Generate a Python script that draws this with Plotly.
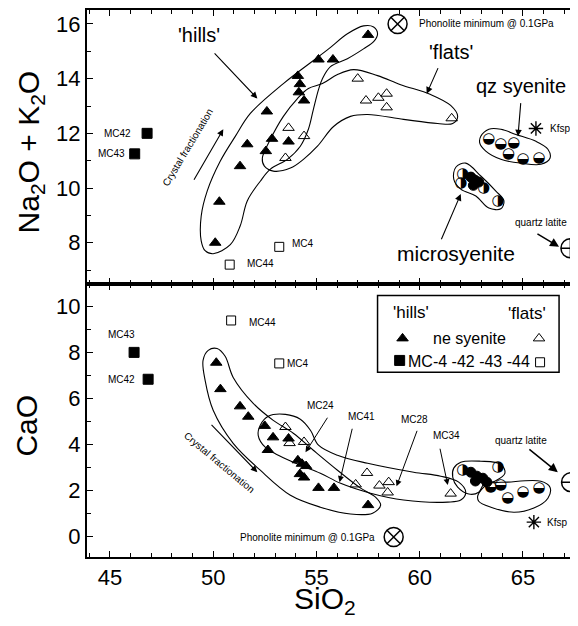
import plotly.graph_objects as go
from plotly.subplots import make_subplots

# ---------------- data (SiO2 wt%, oxide wt%) ----------------
# top panel: Na2O + K2O
hills_top_x = [50.1, 50.3, 51.3, 51.65, 52.6, 52.85, 52.55, 53.65, 54.1, 54.2, 54.15, 54.4, 55.1, 55.8, 57.5]
hills_top_y = [8.0, 9.5, 10.8, 11.6, 12.8, 11.8, 11.35, 11.7, 14.1, 13.8, 13.5, 13.2, 14.7, 14.7, 15.6]
flats_top_x = [53.5, 53.65, 54.4, 57.0, 57.4, 58.0, 58.4, 58.4, 61.55]
flats_top_y = [11.1, 12.2, 11.9, 14.0, 13.2, 13.3, 13.45, 12.95, 12.55]
mc_fill_top_x = [46.8, 46.2]          # MC42, MC43
mc_fill_top_y = [12.0, 11.25]
mc_open_top_x = [53.2, 50.8]          # MC4, MC44
mc_open_top_y = [7.85, 7.2]
qz_top_x = [63.35, 63.93, 64.56, 64.3, 65.0, 65.78]
qz_top_y = [11.78, 11.6, 11.64, 11.24, 11.05, 11.09]
micro_half_top_x = [62.09, 62.0, 63.1, 63.79]
micro_half_top_y = [10.51, 10.18, 10.0, 9.53]
micro_fill_top_x = [62.48, 62.67, 62.86, 62.6]
micro_fill_top_y = [10.4, 10.29, 10.22, 10.1]
phon_top = (58.93, 16.0)
qlat_top = (67.3, 7.8)
kfsp_top = (65.63, 12.18)

# bottom panel: CaO
hills_bot_x = [50.15, 50.35, 51.3, 51.7, 52.5, 52.9, 52.65, 53.65, 54.1, 54.3, 54.5, 54.2, 54.4, 55.1, 55.85, 57.5]
hills_bot_y = [7.55, 6.4, 5.65, 5.2, 4.8, 4.3, 3.75, 4.25, 3.3, 3.15, 3.05, 2.7, 2.55, 2.1, 2.1, 1.35]
flats_bot_x = [53.5, 53.7, 54.4, 57.45, 56.9, 58.05, 58.5, 58.45, 61.5]
flats_bot_y = [4.75, 4.05, 4.1, 2.75, 2.25, 2.2, 2.35, 1.9, 1.85]
mc_fill_bot_x = [46.17, 46.85]        # MC43, MC42
mc_fill_bot_y = [8.0, 6.83]
mc_open_bot_x = [50.87, 53.2]         # MC44, MC4
mc_open_bot_y = [9.39, 7.52]
qz_bot_x = [63.45, 63.93, 64.27, 65.0, 65.78]
qz_bot_y = [2.13, 2.22, 1.65, 1.91, 2.09]
micro_half_bot_x = [62.09, 63.79]
micro_half_bot_y = [2.87, 3.0]
micro_fill_bot_x = [62.48, 62.77, 63.06, 63.25, 62.7]
micro_fill_bot_y = [2.78, 2.61, 2.52, 2.35, 2.4]
phon_bot = (58.74, -0.04)
qlat_bot = (67.33, 2.35)
kfsp_bot = (65.53, 0.61)

# field envelopes (hand-drawn outlines in the original)
env_hills_top_x = [50.0, 50.83, 51.31, 51.65, 52.28, 52.77, 53.59, 54.22, 54.61, 54.85, 55.1, 55.29, 55.68, 56.5, 57.28, 57.77, 57.96, 57.77, 57.28, 56.5, 55.53, 53.4, 51.8, 51.07, 50.34, 49.71, 49.42, 49.42, 49.61]
env_hills_top_y = [7.6, 7.93, 8.62, 9.53, 10.25, 10.69, 11.05, 11.53, 12.15, 12.87, 13.6, 14.0, 14.44, 14.73, 15.09, 15.35, 15.64, 15.89, 15.93, 15.64, 15.05, 13.82, 12.73, 11.89, 10.98, 9.89, 8.98, 8.07, 7.71]
env_flats_top_x = [52.38, 52.77, 53.4, 54.08, 54.61, 55.29, 56.02, 56.8, 57.96, 59.08, 60.53, 61.5, 61.84, 61.6, 60.87, 59.22, 57.48, 56.65, 55.83, 55.05, 54.37, 53.74, 52.91, 52.48]
env_flats_top_y = [11.09, 11.78, 12.62, 13.27, 13.64, 13.82, 14.15, 14.33, 14.11, 13.78, 13.42, 13.02, 12.62, 12.36, 12.36, 12.51, 12.69, 12.62, 12.25, 11.53, 11.05, 10.73, 10.62, 10.8]
env_qz_top_x = [62.96, 63.35, 63.93, 64.66, 65.63, 66.21, 66.31, 65.87, 64.9, 63.93, 63.2, 62.91]
env_qz_top_y = [11.89, 12.15, 12.15, 11.96, 11.71, 11.42, 11.09, 10.87, 10.91, 11.05, 11.35, 11.64]
env_micro_top_x = [61.75, 62.23, 62.96, 63.69, 64.08, 63.93, 63.35, 62.72, 61.99, 61.65]
env_micro_top_y = [10.76, 10.91, 10.44, 9.89, 9.53, 9.24, 9.27, 9.71, 9.96, 10.33]

env_hills_bot_x = [49.76, 50.19, 50.58, 50.97, 51.94, 52.91, 53.88, 54.85, 56.02, 57.14, 57.86, 58.11, 57.72, 56.65, 55.19, 53.74, 52.28, 50.97, 50.0, 49.61, 49.51]
env_hills_bot_y = [8.09, 8.17, 7.83, 6.91, 5.78, 5.04, 4.48, 3.74, 2.87, 2.09, 1.7, 1.35, 1.0, 0.96, 1.26, 1.78, 2.87, 4.04, 5.48, 6.78, 7.65]
env_flats_bot_x = [52.28, 52.67, 53.5, 54.22, 54.71, 55.1, 56.02, 57.48, 59.71, 61.02, 61.89, 62.23, 61.99, 61.36, 59.22, 57.62, 56.17, 55.19, 54.22, 53.25, 52.52, 52.18]
env_flats_bot_y = [4.83, 5.22, 5.3, 5.09, 4.61, 3.96, 3.52, 3.17, 2.78, 2.61, 2.35, 1.91, 1.57, 1.48, 1.57, 1.87, 2.3, 2.74, 3.09, 3.48, 3.87, 4.39]
env_qz_bot_x = [62.82, 63.3, 64.27, 65.87, 66.31, 66.21, 65.53, 64.56, 63.45, 62.86]
env_qz_bot_y = [1.78, 2.26, 2.35, 2.39, 2.13, 1.65, 1.22, 1.04, 1.26, 1.52]
env_micro_bot_x = [61.65, 61.99, 62.96, 63.93, 64.13, 63.64, 63.11, 62.86, 62.38, 61.84, 61.6]
env_micro_bot_y = [2.96, 3.22, 3.26, 3.13, 2.74, 2.39, 2.26, 1.91, 1.83, 2.13, 2.57]

x_range = [43.89, 67.57]
y_top_range = [6.51, 16.51]
y_bot_range = [-0.91, 11.0]

FONT = "Liberation Sans, Arial, sans-serif"

fig = make_subplots(rows=2, cols=1, shared_xaxes=True, vertical_spacing=0)


def envelope(xs, ys, row):
    fig.add_trace(go.Scatter(x=xs + xs[:1], y=ys + ys[:1], mode="lines",
                             line=dict(color="black", width=1.1, shape="spline", smoothing=1.0),
                             hoverinfo="skip", showlegend=False), row=row, col=1)


def markers(xs, ys, row, symbol, size, lw=1.0, clip=True):
    fig.add_trace(go.Scatter(x=xs, y=ys, mode="markers", cliponaxis=clip,
                             marker=dict(symbol=symbol, size=size, color="black",
                                         line=dict(color="black", width=lw)),
                             showlegend=False), row=row, col=1)


def glyphs(xs, ys, row, glyph, size=15):
    fig.add_trace(go.Scatter(x=xs, y=ys, mode="text", text=[glyph] * len(xs),
                             textposition="middle center",
                             textfont=dict(family="DejaVu Sans", size=size, color="black"),
                             showlegend=False), row=row, col=1)


# envelopes
for ex, ey in [(env_hills_top_x, env_hills_top_y), (env_flats_top_x, env_flats_top_y),
               (env_qz_top_x, env_qz_top_y), (env_micro_top_x, env_micro_top_y)]:
    envelope(ex, ey, 1)
for ex, ey in [(env_hills_bot_x, env_hills_bot_y), (env_flats_bot_x, env_flats_bot_y),
               (env_qz_bot_x, env_qz_bot_y), (env_micro_bot_x, env_micro_bot_y)]:
    envelope(ex, ey, 2)

# top panel points
markers(hills_top_x, hills_top_y, 1, "triangle-up", 10)
markers(flats_top_x, flats_top_y, 1, "triangle-up-open", 10)
markers(mc_fill_top_x, mc_fill_top_y, 1, "square", 10)
markers(mc_open_top_x, mc_open_top_y, 1, "square-open", 9)
glyphs(qz_top_x, qz_top_y, 1, "\u25D2")
glyphs(micro_half_top_x, micro_half_top_y, 1, "\u25D1")
markers(micro_fill_top_x, micro_fill_top_y, 1, "circle", 10)
markers([phon_top[0]], [phon_top[1]], 1, "circle-x-open", 19, 1.5, False)
markers([qlat_top[0]], [qlat_top[1]], 1, "circle-cross-open", 19, 1.5, False)
markers([kfsp_top[0]], [kfsp_top[1]], 1, "asterisk-open", 12, 1.4)

# bottom panel points
markers(hills_bot_x, hills_bot_y, 2, "triangle-up", 10)
markers(flats_bot_x, flats_bot_y, 2, "triangle-up-open", 10)
markers(mc_fill_bot_x, mc_fill_bot_y, 2, "square", 10)
markers(mc_open_bot_x, mc_open_bot_y, 2, "square-open", 9)
glyphs(qz_bot_x, qz_bot_y, 2, "\u25D2")
glyphs(micro_half_bot_x, micro_half_bot_y, 2, "\u25D1")
markers(micro_fill_bot_x, micro_fill_bot_y, 2, "circle", 10)
markers([phon_bot[0]], [phon_bot[1]], 2, "circle-x-open", 19, 1.5, False)
markers([qlat_bot[0]], [qlat_bot[1]], 2, "circle-cross-open", 19, 1.5, False)
markers([kfsp_bot[0]], [kfsp_bot[1]], 2, "asterisk-open", 12, 1.4)

# legend box (bottom panel)
leg_tri_x, leg_tri_y = [59.17], [8.61]
leg_otri_x, leg_otri_y = [65.78], [8.61]
leg_sq_x, leg_sq_y = [59.03], [7.65]
leg_osq_x, leg_osq_y = [65.83], [7.57]
markers(leg_tri_x, leg_tri_y, 2, "triangle-up", 10)
markers(leg_otri_x, leg_otri_y, 2, "triangle-up-open", 10)
markers(leg_sq_x, leg_sq_y, 2, "square", 10)
markers(leg_osq_x, leg_osq_y, 2, "square-open", 9)
fig.add_shape(type="rect", xref="x2", yref="y2", x0=57.96, x1=66.75, y0=7.13, y1=10.48,
              line=dict(color="black", width=1.5))

ann = []


def label(x, y, text, row, size=10, xanchor="center", angle=0):
    ann.append(dict(x=x, y=y, xref="x" if row == 1 else "x2", yref="y" if row == 1 else "y2",
                    text=text, showarrow=False, xanchor=xanchor, yanchor="middle",
                    textangle=angle, font=dict(family=FONT, size=size, color="black")))


def arrow(x0, y0, x1, y1, row, width=1.1, head=2):
    xr = "x" if row == 1 else "x2"
    yr = "y" if row == 1 else "y2"
    ann.append(dict(x=x1, y=y1, ax=x0, ay=y0, xref=xr, yref=yr, axref=xr, ayref=yr,
                    text="", showarrow=True, arrowhead=head, arrowsize=1.2,
                    arrowwidth=width, arrowcolor="black"))


# top panel texts
label(49.32, 15.6, "'hills'", 1, 20)
arrow(50.0, 14.98, 52.14, 13.27, 1)
label(61.5, 14.98, "'flats'", 1, 20)
arrow(60.92, 14.44, 60.34, 13.45, 1)
label(64.9, 13.72, "qz syenite", 1, 20)
arrow(64.9, 13.16, 64.76, 11.89, 1)
label(61.75, 7.6, "microsyenite", 1, 21)
arrow(61.02, 8.07, 61.99, 9.78, 1)
label(59.87, 16.0, "Phonolite minimum @ 0.1GPa", 1, 10, "left")
label(65.87, 8.73, "quartz latite", 1, 10)
arrow(65.63, 8.36, 66.75, 7.85, 1, 1.5)
label(66.21, 12.18, "Kfsp", 1, 10, "left")
label(46.11, 12.0, "MC42", 1, 10, "right")
label(45.82, 11.25, "MC43", 1, 10, "right")
label(53.72, 7.96, "MC4", 1, 10, "left")
label(51.54, 7.24, "MC44", 1, 10, "left")
label(48.75, 11.5, "Crystal fractionation", 1, 10, "center", -59)
arrow(49.03, 10.25, 50.49, 12.15, 1)

# bottom panel texts
label(45.58, 8.78, "MC43", 2, 10)
label(46.31, 6.83, "MC42", 2, 10, "right")
label(51.63, 9.3, "MC44", 2, 10, "left")
label(53.47, 7.52, "MC4", 2, 10, "left")
label(55.19, 5.7, "MC24", 2, 10)
arrow(55.58, 5.22, 54.47, 3.65, 2, 1.0)
label(57.18, 5.22, "MC41", 2, 10)
arrow(56.75, 4.74, 56.12, 2.35, 2, 1.0)
label(59.76, 5.09, "MC28", 2, 10)
arrow(59.9, 4.65, 58.88, 2.17, 2, 1.0)
label(61.31, 4.39, "MC34", 2, 10)
arrow(60.97, 3.87, 61.36, 2.22, 2, 1.0)
label(57.93, -0.04, "Phonolite minimum @ 0.1GPa", 2, 10, "right")
label(64.9, 4.17, "quartz latite", 2, 10)
arrow(65.24, 3.83, 66.69, 2.78, 2, 1.5)
label(66.07, 0.61, "Kfsp", 2, 10, "left")
label(50.3, 3.2, "Crystal fractionation", 2, 10, "center", 40)
arrow(49.85, 4.91, 52.14, 2.78, 2)
label(59.58, 9.74, "'hills'", 2, 17)
label(65.19, 9.7, "'flats'", 2, 17)
label(62.43, 8.61, "ne syenite", 2, 16)
label(62.39, 7.61, "MC-4 -42 -43 -44", 2, 16)

# axis titles
ann.append(dict(x=-0.115, y=0.741, xref="paper", yref="paper", text="Na<sub>2</sub>O + K<sub>2</sub>O",
                showarrow=False, textangle=-90, xanchor="center", yanchor="middle",
                font=dict(family=FONT, size=30, color="black")))
ann.append(dict(x=-0.123, y=0.24, xref="paper", yref="paper", text="CaO",
                showarrow=False, textangle=-90, xanchor="center", yanchor="middle",
                font=dict(family=FONT, size=30, color="black")))
ann.append(dict(x=0.487, y=-0.08, xref="paper", yref="paper", text="SiO<sub>2</sub>",
                showarrow=False, xanchor="center", yanchor="middle",
                font=dict(family=FONT, size=30, color="black")))

axis_common = dict(showline=True, linecolor="black", linewidth=2, mirror="allticks",
                   ticks="inside", ticklen=6, tickwidth=1, tickcolor="black",
                   showgrid=False, zeroline=False,
                   tickfont=dict(family=FONT, size=22, color="black"))
minor = dict(ticks="inside", ticklen=4, tickwidth=1, tickcolor="black", dtick=1, showgrid=False)

fig.update_xaxes(range=x_range, tick0=45, dtick=5, minor=minor, **axis_common)
fig.update_yaxes(range=y_top_range, tick0=8, dtick=2, minor=minor, row=1, col=1, **axis_common)
fig.update_yaxes(range=y_bot_range, tick0=0, dtick=2, minor=minor, row=2, col=1, **axis_common)

# page body adds an 8 px offset, so the figure is sized to the visible area
fig.update_layout(width=570, height=618, margin=dict(l=79, r=2, t=0, b=69),
                  paper_bgcolor="white", plot_bgcolor="white", showlegend=False,
                  annotations=ann, font=dict(family=FONT, color="black"))

fig.write_html("out.html")
